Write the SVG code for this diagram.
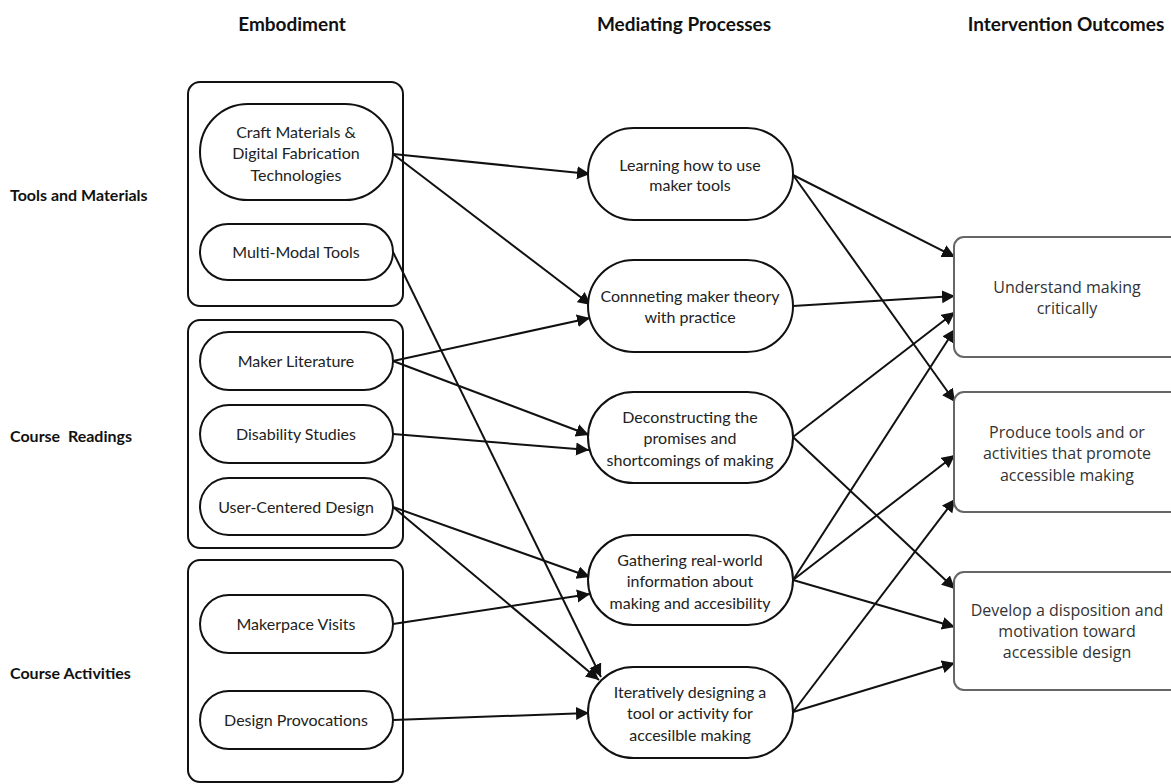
<svg xmlns="http://www.w3.org/2000/svg" width="1171" height="784" viewBox="0 0 1171 784">
<defs>
<marker id="ah" markerUnits="userSpaceOnUse" markerWidth="14" markerHeight="14" refX="13" refY="6.5" orient="auto">
<path d="M0,0 L13,6.5 L0,13 Z" fill="#111"/>
</marker>
<style>
.hdr{font-family:Lato,"Liberation Sans",sans-serif;font-weight:bold;font-size:19px;fill:#111;text-anchor:middle}
.side{font-family:Lato,"Liberation Sans",sans-serif;font-weight:bold;font-size:16px;fill:#111}
.grp{fill:none;stroke:#111;stroke-width:2}
.pill{fill:#fff;stroke:#111;stroke-width:2}
.out{fill:#fff;stroke:#666;stroke-width:2}
.t{font-family:Lato,"Liberation Sans",sans-serif;font-size:16px;fill:#222;text-anchor:middle}
.to{font-family:"Open Sans","Noto Sans","Liberation Sans",sans-serif;font-size:16px;fill:#333;text-anchor:middle}
.c{fill:none;stroke:#111;stroke-width:2;marker-end:url(#ah)}
</style>
</defs>
<rect width="1171" height="784" fill="#fff"/>

<text class="hdr" x="292" y="31">Embodiment</text>
<text class="hdr" x="684" y="31">Mediating Processes</text>
<text class="hdr" x="1066" y="31">Intervention Outcomes</text>

<text class="side" x="10" y="201">Tools and Materials</text>
<text class="side" x="10" y="442" xml:space="preserve">Course  Readings</text>
<text class="side" x="10" y="679">Course Activities</text>

<g id="groups">
<rect class="grp" x="188" y="82" width="215" height="224" rx="12"/>
<rect class="grp" x="188" y="320" width="215" height="228" rx="12"/>
<rect class="grp" x="188" y="560" width="215" height="222" rx="12"/>
</g>

<g id="connectors">
<line class="c" x1="393" y1="154" x2="590" y2="174"/>
<line class="c" x1="393" y1="154" x2="591" y2="305"/>
<line class="c" x1="393" y1="252" x2="601" y2="677"/>
<line class="c" x1="393" y1="361" x2="590" y2="318"/>
<line class="c" x1="393" y1="361" x2="589" y2="435"/>
<line class="c" x1="393" y1="434" x2="589" y2="450"/>
<line class="c" x1="393" y1="507" x2="590" y2="577"/>
<line class="c" x1="393" y1="507" x2="599" y2="680"/>
<line class="c" x1="393" y1="624" x2="590" y2="594"/>
<line class="c" x1="393" y1="720" x2="589" y2="713"/>
<line class="c" x1="793" y1="175" x2="955" y2="257"/>
<line class="c" x1="793" y1="175" x2="955" y2="402"/>
<line class="c" x1="793" y1="306" x2="955" y2="296"/>
<line class="c" x1="793" y1="437" x2="955" y2="312"/>
<line class="c" x1="793" y1="437" x2="955" y2="589"/>
<line class="c" x1="793" y1="580" x2="955" y2="329"/>
<line class="c" x1="793" y1="580" x2="955" y2="455"/>
<line class="c" x1="793" y1="580" x2="955" y2="627"/>
<line class="c" x1="793" y1="712" x2="955" y2="499"/>
<line class="c" x1="793" y1="712" x2="955" y2="663"/>
</g>

<g id="craft"><rect class="pill" x="200" y="104" width="193" height="96" rx="48"/>
<text class="t" x="296" y="138">Craft Materials &amp;</text><text class="t" x="296" y="159">Digital Fabrication</text><text class="t" x="296" y="181">Technologies</text></g>
<g id="multimodal"><rect class="pill" x="200" y="224" width="193" height="56" rx="28"/>
<text class="t" x="296" y="258">Multi-Modal Tools</text></g>
<g id="makerlit"><rect class="pill" x="200" y="332" width="193" height="58" rx="29"/>
<text class="t" x="296" y="367">Maker Literature</text></g>
<g id="disability"><rect class="pill" x="200" y="405" width="193" height="58" rx="29"/>
<text class="t" x="296" y="440">Disability Studies</text></g>
<g id="ucd"><rect class="pill" x="200" y="478" width="193" height="57" rx="28.5"/>
<text class="t" x="296" y="513">User-Centered Design</text></g>
<g id="makerspace"><rect class="pill" x="200" y="595" width="193" height="58" rx="29"/>
<text class="t" x="296" y="630">Makerpace Visits</text></g>
<g id="provocations"><rect class="pill" x="200" y="691" width="193" height="58" rx="29"/>
<text class="t" x="296" y="726">Design Provocations</text></g>

<g id="learning"><rect class="pill" x="588" y="128" width="205" height="92" rx="46"/>
<text class="t" x="690" y="171">Learning how to use</text><text class="t" x="690" y="191">maker tools</text></g>
<g id="connecting"><rect class="pill" x="588" y="260" width="205" height="92" rx="46"/>
<text class="t" x="690" y="302">Connneting maker theory</text><text class="t" x="690" y="323">with practice</text></g>
<g id="deconstructing"><rect class="pill" x="588" y="392" width="205" height="91" rx="45.5"/>
<text class="t" x="690" y="423">Deconstructing the</text><text class="t" x="690" y="444">promises and</text><text class="t" x="690" y="466">shortcomings of making</text></g>
<g id="gathering"><rect class="pill" x="588" y="535" width="205" height="90" rx="45"/>
<text class="t" x="690" y="566">Gathering real-world</text><text class="t" x="690" y="587">information about</text><text class="t" x="690" y="609">making and accesibility</text></g>
<g id="iterative"><rect class="pill" x="588" y="667" width="205" height="91" rx="45.5"/>
<text class="t" x="690" y="698">Iteratively designing a</text><text class="t" x="690" y="719">tool or activity for</text><text class="t" x="690" y="741">accesilble making</text></g>

<g id="understand"><rect class="out" x="954" y="237" width="228" height="120" rx="10"/>
<text class="to" x="1067" y="293">Understand making</text><text class="to" x="1067" y="314">critically</text></g>
<g id="produce"><rect class="out" x="954" y="392" width="228" height="120" rx="10"/>
<text class="to" x="1067" y="438">Produce tools and or</text><text class="to" x="1067" y="459">activities that promote</text><text class="to" x="1067" y="481">accessible making</text></g>
<g id="develop"><rect class="out" x="954" y="572" width="228" height="118" rx="10"/>
<text class="to" x="1067" y="616">Develop a disposition and</text><text class="to" x="1067" y="637">motivation toward</text><text class="to" x="1067" y="658">accessible design</text></g>
</svg>
